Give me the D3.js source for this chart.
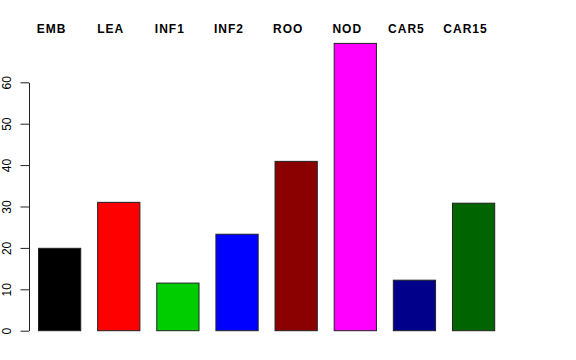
<!DOCTYPE html>
<html>
<head>
<meta charset="utf-8">
<script src="https://cdn.jsdelivr.net/npm/d3@7"></script>
<style>
  body { margin: 0; background: #fff; }
  svg { display: block; font-family: "Liberation Sans", Arial, Helvetica, sans-serif; }
</style>
</head>
<body>
<svg id="chart" width="576" height="360"></svg>
<script>
const categories = ["EMB", "LEA", "INF1", "INF2", "ROO", "NOD", "CAR5", "CAR15"]
const values = [19.9, 31.0, 11.5, 23.3, 40.9, 69.4, 12.2, 30.8]
const colors = ["#000000", "#FF0000", "#00CD00", "#0000FF", "#8B0000", "#FF00FF", "#00008B", "#006400"]
const yTicks = [0, 10, 20, 30, 40, 50, 60]

const svg = d3.select("#chart")

// barplot-style positions: width 1, space 0.4
const space = 0.4
const barLeft = i => space + i * (1 + space)
const x = d3.scaleLinear().domain([space, barLeft(categories.length - 1) + 1]).range([38.5, 494.7])
const y = d3.scaleLinear().domain([0, 60]).range([330.7, 82.3])

const data = categories.map((c, i) => ({ name: c, value: values[i], color: colors[i], i: i }))

svg.append("g")
    .selectAll("rect")
    .data(data)
    .join("rect")
    .attr("x", d => x(barLeft(d.i)))
    .attr("width", d => x(barLeft(d.i) + 1) - x(barLeft(d.i)))
    .attr("y", d => y(d.value))
    .attr("height", d => y(0) - y(d.value))
    .attr("fill", d => d.color)
    .attr("stroke", "#222")
    .attr("stroke-width", 1)

// y axis
const yAxis = svg.append("g")
    .attr("transform", "translate(29,0)")
    .call(d3.axisLeft(y).tickValues(yTicks).tickSize(8.5).tickSizeOuter(0))

yAxis.select(".domain").attr("stroke", "#222")
yAxis.selectAll(".tick line").attr("stroke", "#222")
yAxis.selectAll(".tick text")
    .attr("x", null)
    .attr("dy", null)
    .attr("text-anchor", "middle")
    .attr("transform", "translate(-18.5,0) rotate(-90)")
    .attr("font-size", 12)
    .attr("font-family", "Liberation Sans, Arial, sans-serif")
    .attr("fill", "#000")

// category labels across the top
svg.append("g")
    .selectAll("text")
    .data(data)
    .join("text")
    .attr("x", d => x(barLeft(d.i) + 0.5 - 0.19))
    .attr("y", 33.3)
    .attr("text-anchor", "middle")
    .attr("font-size", 12)
    .attr("font-weight", "bold")
    .attr("letter-spacing", "1px")
    .text(d => d.name)
</script>
</body>
</html>
